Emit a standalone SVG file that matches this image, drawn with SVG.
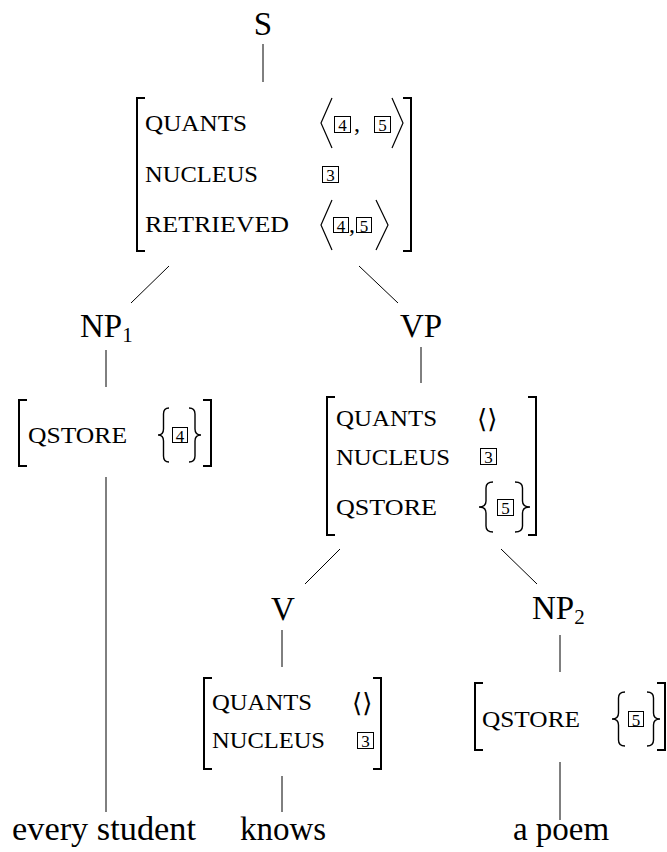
<svg xmlns="http://www.w3.org/2000/svg" width="667" height="852" viewBox="0 0 667 852">
<style>
text{font-family:"Liberation Serif","Times New Roman",serif;fill:#000}
.lbl{font-size:33px}
.mid{text-anchor:middle}
.sub{font-size:21px}
.feat{font-size:24px}
.tag{font-size:17px;text-anchor:middle}
.val{font-family:"DejaVu Serif","DejaVu Sans",serif;font-size:26px;font-weight:300}
.box{fill:none;stroke:#000;stroke-width:1}
.brk{fill:none;stroke:#000;stroke-width:2}
.ang{fill:none;stroke:#000;stroke-width:1.2}
.brc{fill:none;stroke:#000;stroke-width:1.4}
.edge{stroke:#000;stroke-width:1;fill:none}
</style>
<rect width="667" height="852" fill="#fff"/>

<g id="edges">
<line class="edge" x1="263" y1="44" x2="263" y2="82"/>
<line class="edge" x1="169" y1="266" x2="131" y2="303"/>
<line class="edge" x1="359" y1="266" x2="398" y2="303"/>
<line class="edge" x1="106" y1="350" x2="106" y2="387"/>
<line class="edge" x1="421" y1="347" x2="421" y2="383"/>
<line class="edge" x1="106" y1="477" x2="106" y2="812"/>
<line class="edge" x1="340" y1="549" x2="305" y2="584"/>
<line class="edge" x1="501" y1="549" x2="537" y2="584"/>
<line class="edge" x1="282" y1="630" x2="282" y2="667"/>
<line class="edge" x1="560" y1="635" x2="560" y2="672"/>
<line class="edge" x1="282" y1="776" x2="282" y2="812"/>
<line class="edge" x1="560" y1="762" x2="560" y2="820"/>
</g>

<g id="S"><text class="lbl mid" x="263" y="35">S</text></g>

<g id="avm-S">
<path class="brk" d="M145,98 H137 V251 H145"/>
<path class="brk" d="M403,98 H411 V251 H403"/>
<text class="feat" x="145" y="131" textLength="102" lengthAdjust="spacingAndGlyphs">QUANTS</text>
<path class="ang" d="M332,98 L321,123 L332,148"/>
<rect class="box" x="334.5" y="116.5" width="16" height="16"/><text class="tag" x="342.5" y="131">4</text>
<text class="feat" x="354" y="131">,</text>
<rect class="box" x="374.5" y="116.5" width="16" height="16"/><text class="tag" x="382.5" y="131">5</text>
<path class="ang" d="M392,98 L403,123 L392,148"/>
<text class="feat" x="145" y="182" textLength="113" lengthAdjust="spacingAndGlyphs">NUCLEUS</text>
<rect class="box" x="322.5" y="166.5" width="16" height="16"/><text class="tag" x="330.5" y="181">3</text>
<text class="feat" x="145" y="232" textLength="144" lengthAdjust="spacingAndGlyphs">RETRIEVED</text>
<path class="ang" d="M332,200 L321,225 L332,250"/>
<rect class="box" x="333.5" y="217.5" width="15" height="15"/><text class="tag" x="341" y="231.5">4</text>
<text class="feat" x="349" y="232">,</text>
<rect class="box" x="356.5" y="217.5" width="15" height="15"/><text class="tag" x="364" y="231.5">5</text>
<path class="ang" d="M376,200 L388,225 L376,250"/>
</g>

<g id="NP1"><text class="lbl" x="80" y="337">NP<tspan class="sub" dy="5">1</tspan></text></g>

<g id="avm-NP1">
<path class="brk" d="M27,400 H19 V466 H27"/>
<path class="brk" d="M203,400 H211 V466 H203"/>
<text class="feat" x="28" y="443" textLength="99" lengthAdjust="spacingAndGlyphs">QSTORE</text>
<path class="brc" d="M169,408 Q163.5,408 163.5,414 L163.5,429 Q163.5,435 158,435 Q163.5,435 163.5,441 L163.5,456 Q163.5,462 169,462"/>
<rect class="box" x="172.5" y="427.5" width="15" height="15"/><text class="tag" x="180" y="441.5">4</text>
<path class="brc" d="M189,408 Q195,408 195,414 L195,429 Q195,435 201,435 Q195,435 195,441 L195,456 Q195,462 189,462"/>
</g>

<g id="VP"><text class="lbl mid" x="421" y="337">VP</text></g>

<g id="avm-VP">
<path class="brk" d="M335,397 H327 V535 H335"/>
<path class="brk" d="M528,397 H536 V535 H528"/>
<text class="feat" x="336" y="426" textLength="101" lengthAdjust="spacingAndGlyphs">QUANTS</text>
<text class="val" x="477" y="428">⟨⟩</text>
<text class="feat" x="336" y="465" textLength="114" lengthAdjust="spacingAndGlyphs">NUCLEUS</text>
<rect class="box" x="480.5" y="448.5" width="16" height="16"/><text class="tag" x="488.5" y="463">3</text>
<text class="feat" x="336" y="515" textLength="101" lengthAdjust="spacingAndGlyphs">QSTORE</text>
<path class="brc" d="M493,482 Q486,482 486,488 L486,501 Q486,507 479,507 Q486,507 486,513 L486,526 Q486,532 493,532"/>
<rect class="box" x="497.5" y="499.5" width="16" height="16"/><text class="tag" x="505.5" y="514">5</text>
<path class="brc" d="M515,482 Q522.5,482 522.5,488 L522.5,501 Q522.5,507 530,507 Q522.5,507 522.5,513 L522.5,526 Q522.5,532 515,532"/>
</g>

<g id="V"><text class="lbl mid" x="283" y="620">V</text></g>

<g id="avm-V">
<path class="brk" d="M212,678 H204 V769 H212"/>
<path class="brk" d="M373,678 H381 V769 H373"/>
<text class="feat" x="212" y="710" textLength="100" lengthAdjust="spacingAndGlyphs">QUANTS</text>
<text class="val" x="352" y="712">⟨⟩</text>
<text class="feat" x="212" y="748" textLength="113" lengthAdjust="spacingAndGlyphs">NUCLEUS</text>
<rect class="box" x="357.5" y="732.5" width="16" height="16"/><text class="tag" x="365.5" y="747">3</text>
</g>

<g id="NP2"><text class="lbl" x="532" y="619">NP<tspan class="sub" dy="5">2</tspan></text></g>

<g id="avm-NP2">
<path class="brk" d="M483,683 H475 V750 H483"/>
<path class="brk" d="M657,683 H665 V750 H657"/>
<text class="feat" x="482" y="727" textLength="98" lengthAdjust="spacingAndGlyphs">QSTORE</text>
<path class="brc" d="M625,692 Q618.5,692 618.5,698 L618.5,713 Q618.5,719 612,719 Q618.5,719 618.5,725 L618.5,740 Q618.5,746 625,746"/>
<rect class="box" x="628.5" y="711.5" width="15" height="15"/><text class="tag" x="636" y="725.5">5</text>
<path class="brc" d="M647,692 Q653.5,692 653.5,698 L653.5,713 Q653.5,719 660,719 Q653.5,719 653.5,725 L653.5,740 Q653.5,746 647,746"/>
</g>

<g id="w-every-student"><text class="lbl" x="12" y="840" textLength="184" lengthAdjust="spacingAndGlyphs">every student</text></g>
<g id="w-knows"><text class="lbl mid" x="283" y="840">knows</text></g>
<g id="w-a-poem"><text class="lbl mid" x="561" y="840">a poem</text></g>
</svg>
